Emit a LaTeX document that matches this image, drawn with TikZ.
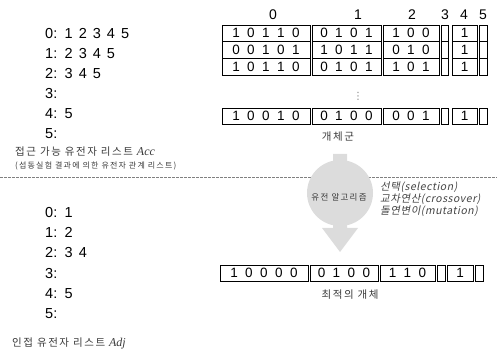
\documentclass[tikz,border=0pt]{standalone}
\usepackage{fontspec}
\setmainfont{Liberation Sans}
\newfontfamily\kr{Noto Sans CJK KR}[LetterSpace=15]
\newfontfamily\krit{Noto Sans CJK KR}[FakeSlant=0.2,LetterSpace=5]
\newfontfamily\lstfont{Liberation Sans}[WordSpace=1.5]
\newfontfamily\tnr{Liberation Serif}
\newfontfamily\dv{DejaVu Sans}
\definecolor{argray}{HTML}{DCDCDC}
\definecolor{labgray}{HTML}{3A3A3A}
\definecolor{opgray}{HTML}{444444}
\definecolor{dashgray}{HTML}{808080}
\newcommand\B[1]{\makebox[15pt]{#1}}
\newcommand\toprow[5]{%
  \node[cell,minimum width=88] (#1a) at (222,#2) {#3};
  \node[cell,minimum width=69] (#1b) at (312,#2) {#4};
  \node[cell,minimum width=56] (#1c) at (383,#2) {#5};
  \node[cell,minimum width=7]  (#1d) at (441,#2) {};
  \node[cell,minimum width=25] (#1e) at (452,#2) {\B1};
  \node[cell,minimum width=8]  (#1f) at (479,#2) {};
}
\begin{document}
\begin{tikzpicture}[x=1pt,y=-1pt,
  cell/.style={draw, line width=0.8pt, inner sep=0pt, outer sep=0pt, minimum height=16.7pt, anchor=north west, font=\fontsize{13.5}{13.5}\selectfont},
  hdr/.style={font=\fontsize{14}{14}\selectfont, inner sep=0pt},
  lst/.style={font=\lstfont\fontsize{14.5}{14.5}\selectfont, anchor=base west, inner sep=0pt},
  klabel/.style={font=\kr\fontsize{10.5}{10.5}\selectfont, text=labgray, inner sep=0pt},
  op/.style={font=\krit\fontsize{10.5}{10.5}\selectfont, text=opgray, anchor=west, inner sep=0pt},
  dashline/.style={dashgray, line width=0.6pt, dash pattern=on 2.5pt off 1.5pt},
]
\useasboundingbox (0,0) rectangle (497,352);

% separator
\coordinate (dl) at (0,177);
\coordinate (dr) at (497,177);
\draw[dashline] (dl) -- (dr);

% headers
\node[hdr] (h0) at (273,15) {0};
\node[hdr] (h1) at (358,15) {1};
\node[hdr] (h2) at (412,15) {2};
\node[hdr] (h3) at (445,15) {3};
\node[hdr] (h4) at (464,15) {4};
\node[hdr] (h5) at (483,15) {5};

% population
\toprow{r1}{25}{\B1\B0\B1\B1\B0}{\B0\B1\B0\B1}{\B1\B0\B0}
\toprow{r2}{41.7}{\B0\B0\B1\B0\B1}{\B1\B0\B1\B1}{\B0\B1\B0}
\toprow{r3}{58.4}{\B1\B0\B1\B1\B0}{\B0\B1\B0\B1}{\B1\B0\B1}
\node[font=\dv\fontsize{10}{10}\selectfont, text=dashgray, inner sep=0pt] (dots) at (358,96) {⋮};
\toprow{r4}{108}{\B1\B0\B0\B1\B0}{\B0\B1\B0\B0}{\B0\B0\B1}
\node[klabel] (poplab) at (338,137) {개체군};

% lists
\foreach \t [count=\i from 0] in {{1 2 3 4 5},{2 3 4 5},{3 4 5},{},{5},{}}
  \node[lst] (acc\i) at (45,39+20*\i) {\i: \t};
\foreach \t [count=\i from 0] in {{1},{2},{3 4},{},{5},{}}
  \node[lst] (adj\i) at (45,218+20*\i) {\i: \t};

\node[klabel, anchor=west] (acclab) at (15,152) {접근 가능 유전자 리스트 {\tnr\itshape\fontsize{12}{12}\selectfont Acc}};
\node[klabel, anchor=west, font=\kr\fontsize{8}{8}\selectfont] (acclab2) at (15,166) {(섭동실험 결과에 의한 유전자 관계 리스트)};
\node[klabel, anchor=west] (adjlab) at (12,343) {인접 유전자 리스트 {\tnr\itshape\fontsize{12}{12}\selectfont Adj}};

% GA arrow
\fill[argray] (333,154) -- (347,154) -- (347,228) -- (358,228) -- (340,252) -- (322,228) -- (333,228) -- cycle;
\node[circle, fill=argray, minimum size=66pt, inner sep=0pt] (ga) at (340,193) {};
\node[klabel, font=\kr\fontsize{8.5}{8.5}\selectfont] (galab) at (339,197) {유전 알고리즘};
\node[op] (op1) at (380,187) {선택(selection)};
\node[op] (op2) at (380,199) {교차연산(crossover)};
\node[op] (op3) at (380,211) {돌연변이(mutation)};

% best individual
\node[cell,minimum width=88] (ba) at (220,265) {\B1\B0\B0\B0\B0};
\node[cell,minimum width=68] (bb) at (310,265) {\B0\B1\B0\B0};
\node[cell,minimum width=55] (bc) at (380,265) {\B1\B1\B0};
\node[cell,minimum width=8]  (bd) at (437,265) {};
\node[cell,minimum width=26] (be) at (447,265) {\B1};
\node[cell,minimum width=8]  (bf) at (475,265) {};
\node[klabel] (bestlab) at (350,295) {최적의 개체};
\end{tikzpicture}
\end{document}
